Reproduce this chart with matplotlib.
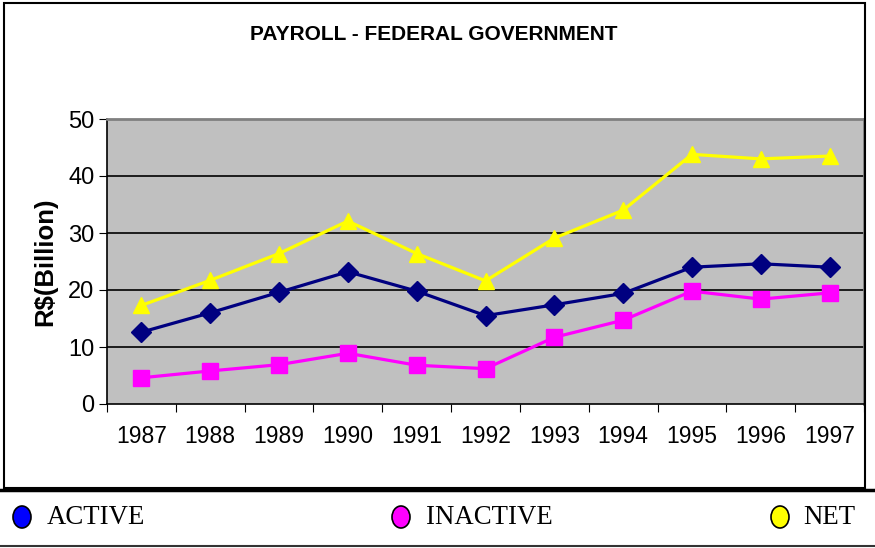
import matplotlib
matplotlib.use("Agg")
import matplotlib.pyplot as plt
from matplotlib.patches import Rectangle, Ellipse
from matplotlib.lines import Line2D

years = ["1987", "1988", "1989", "1990", "1991", "1992", "1993", "1994", "1995", "1996", "1997"]
active = [12.6, 16.0, 19.6, 23.2, 19.8, 15.5, 17.4, 19.4, 24.0, 24.6, 24.0]
inactive = [4.6, 5.8, 6.9, 8.9, 6.8, 6.2, 11.7, 14.7, 19.8, 18.4, 19.5]
net = [17.3, 21.7, 26.4, 32.1, 26.4, 21.6, 29.1, 34.0, 43.8, 43.0, 43.5]
series_names = ["ACTIVE", "INACTIVE", "NET"]
yticks = [0, 10, 20, 30, 40, 50]

W, H = 875, 548
fig = plt.figure(figsize=(W / 100, H / 100), dpi=100)

def fx(px):
    return px / W

def fy(py):
    return 1 - py / H

# outer chart border
fig.add_artist(Rectangle((fx(4), fy(488)), fx(865) - fx(4), fy(3) - fy(488),
                         transform=fig.transFigure, fill=False, edgecolor="black", lw=1.5))
# thick separator and bottom line
fig.add_artist(Line2D([0, 1], [fy(490), fy(490)], transform=fig.transFigure, color="black", lw=2.5))
fig.add_artist(Line2D([0, 1], [fy(546), fy(546)], transform=fig.transFigure, color="#333333", lw=1.5))

ax = fig.add_axes([fx(107), fy(404), fx(864) - fx(107), fy(119) - fy(404)])
ax.set_facecolor("#C0C0C0")
x = list(range(len(years)))
ax.plot(x, active, color="#000080", lw=2.3, marker="D", markersize=10, zorder=4)
ax.plot(x, inactive, color="#FF00FF", lw=2.3, marker="s", markersize=11, zorder=3)
ax.plot(x, net, color="#FFFF00", lw=2.3, marker="^", markersize=12, zorder=5)

ax.set_xlim(-0.5, len(years) - 0.5)
ax.set_ylim(0, 50)
ax.set_yticks(yticks)
ax.set_yticklabels([str(v) for v in yticks], fontsize=17, family="Liberation Sans")
for v in yticks[1:-1]:
    ax.axhline(v, color="black", lw=1.2, zorder=1)

ax.set_xticks([i - 0.5 for i in range(len(years) + 1)])
ax.set_xticklabels([])
ax.set_xticks(x, minor=True)
ax.set_xticklabels(years, minor=True, fontsize=16.5, family="Liberation Sans")
ax.tick_params(axis="x", which="minor", length=0, pad=15)
ax.tick_params(axis="x", which="major", length=6, direction="out", color="black")
ax.tick_params(axis="y", length=6, direction="out", pad=3)

for side in ["top", "right"]:
    ax.spines[side].set_color("#808080")
    ax.spines[side].set_linewidth(2)
for side in ["left", "bottom"]:
    ax.spines[side].set_color("black")
    ax.spines[side].set_linewidth(1.2)

ax.set_ylabel("R$(Billion)", fontsize=18.5, fontweight="bold", family="Liberation Sans", labelpad=8)

fig.text(fx(434), fy(35), "PAYROLL - FEDERAL GOVERNMENT", ha="center", va="center",
         fontsize=15, fontweight="bold", family="Liberation Sans")

# legend
leg_colors = ["#0000FF", "#FF00FF", "#FFFF00"]
marker_x = [22, 401, 780]
text_x = [47, 426, 803]
for name, c, mx, tx in zip(series_names, leg_colors, marker_x, text_x):
    fig.add_artist(Ellipse((fx(mx), fy(517)), fx(18), 22 / H, transform=fig.transFigure,
                           facecolor=c, edgecolor="black", lw=1.2))
    fig.text(fx(tx), fy(517), name, ha="left", va="center", fontsize=19.3,
             family="Liberation Serif")

fig.savefig("out.png", dpi=100)
